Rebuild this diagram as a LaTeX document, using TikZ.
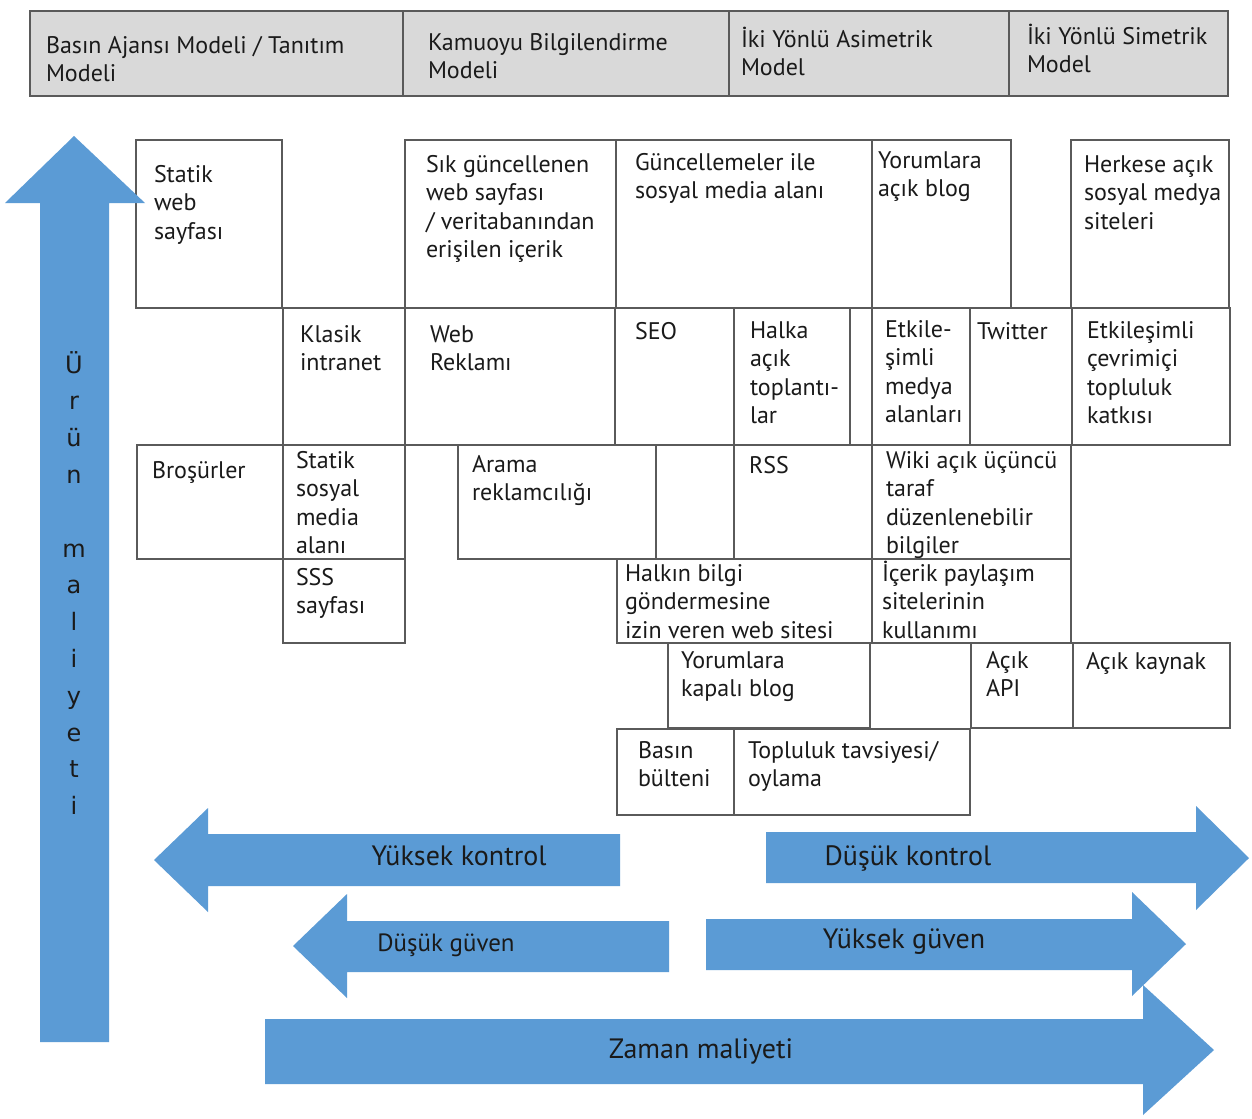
\documentclass[tikz,border=0pt]{standalone}
\usepackage{fontspec}
\setmainfont{PT Sans}
\newfontfamily\vertfont{DejaVu Sans}
\definecolor{arrowblue}{HTML}{5B9BD5}
\definecolor{linegray}{HTML}{5A5A5A}
\definecolor{headgray}{HTML}{D9D9D9}
\definecolor{txtblack}{HTML}{1A1A1A}
\newcommand\mkbox[6][cell]{\node[#1, minimum width={(#5-#3)*0.75pt}, minimum height={(#6-#4)*0.75pt}] (#2) at (#3,#4) {};}
\newcommand\lns[1]{\begin{tabular}[t]{@{}l@{}}#1\end{tabular}}
\tikzset{
  cell/.style={draw=linegray, line width=1pt, rectangle, anchor=north west, inner sep=0pt, outer sep=0pt},
  headcell/.style={cell, fill=headgray},
  txt/.style={anchor=base west, inner sep=0pt, outer sep=0pt, text=txtblack, font=\fontsize{18}{21.4}\selectfont},
  arrowlbl/.style={anchor=base, inner sep=0pt, outer sep=0pt, text=txtblack, font=\fontsize{21}{25}\selectfont},
  blockarrow/.style={fill=arrowblue, draw=none},
}
\begin{document}
\begin{tikzpicture}[x=0.75pt, y=-0.75pt]
\useasboundingbox[fill=white] (0,0) rectangle (1252,1118);

% header
\mkbox[headcell]{h1}{30}{11}{403}{96}
\mkbox[headcell]{h2}{403}{11}{729}{96}
\mkbox[headcell]{h3}{729}{11}{1009}{96}
\mkbox[headcell]{h4}{1009}{11}{1228}{96}
\node[txt] (th1) at (46,53) {\lns{Basın Ajansı Modeli / Tanıtım\\Modeli}};
\node[txt] (th2) at (428,50) {\lns{Kamuoyu Bilgilendirme\\Modeli}};
\node[txt] (th3) at (741,47) {\lns{İki Yönlü Asimetrik\\Model}};
\node[txt] (th4) at (1027,44) {\lns{İki Yönlü Simetrik\\Model}};

% row 1
\mkbox{b1}{136}{140}{282}{308}
\mkbox{b2}{405}{140}{616}{308}
\mkbox{b3}{616}{140}{872}{308}
\mkbox{b4}{872}{140}{1011}{308}
\mkbox{b5}{1071}{140}{1229}{308}
\node[txt] (tb1) at (154,182) {\lns{Statik\\web\\sayfası}};
\node[txt] (tb2) at (426,172) {\lns{Sık güncellenen\\web sayfası\\/ veritabanından\\erişilen içerik}};
\node[txt] (tb3) at (635,170) {\lns{Güncellemeler ile\\sosyal media alanı}};
\node[txt] (tb4) at (878,168) {\lns{Yorumlara\\açık blog}};
\node[txt] (tb5) at (1084,172) {\lns{Herkese açık\\sosyal medya\\siteleri}};

% row 2
\mkbox{c1}{283}{308}{405}{445}
\mkbox{c2}{405}{308}{615}{445}
\mkbox{c3}{615}{308}{734}{445}
\mkbox{c4}{734}{308}{850}{445}
\mkbox{c5}{872}{308}{970}{445}
\mkbox{c6}{970}{308}{1072}{445}
\mkbox{c7}{1072}{308}{1230}{445}
\node[txt] (tc1) at (300,342) {\lns{Klasik\\intranet}};
\node[txt] (tc2) at (430,342) {\lns{Web\\Reklamı}};
\node[txt] (tc3) at (635,339) {SEO};
\node[txt] (tc4) at (750,338) {\lns{Halka\\açık\\toplantı-\\lar}};
\node[txt] (tc5) at (885,337) {\lns{Etkile-\\şimli\\medya\\alanları}};
\node[txt] (tc6) at (977,339) {Twitter};
\node[txt] (tc7) at (1087,338) {\lns{Etkileşimli\\çevrimiçi\\topluluk\\katkısı}};

% row 3
\mkbox{d1}{137}{445}{283}{559}
\mkbox{d2}{283}{445}{405}{559}
\mkbox{d3}{458}{445}{656}{559}
\mkbox{d4}{734}{445}{872}{559}
\mkbox{d5}{872}{445}{1071}{559}
\node[txt] (td1) at (152,478) {Broşürler};
\node[txt] (td2) at (296,468) {\lns{Statik\\sosyal\\media\\alanı}};
\node[txt] (td3) at (472,472) {\lns{Arama\\reklamcılığı}};
\node[txt] (td4) at (749,473) {RSS};
\node[txt] (td5) at (886,468) {\lns{Wiki açık üçüncü\\taraf\\düzenlenebilir\\bilgiler}};

% row 4
\mkbox{e1}{283}{559}{405}{643}
\mkbox{e2}{617}{559}{872}{643}
\mkbox{e3}{872}{559}{1071}{643}
\node[txt] (te1) at (296,585) {\lns{SSS\\sayfası}};
\node[txt] (te2) at (625,581) {\lns{Halkın bilgi\\göndermesine\\izin veren web sitesi}};
\node[txt] (te3) at (882,581) {\lns{İçerik paylaşım\\sitelerinin\\kullanımı}};

% row 5
\mkbox{f1}{668}{643}{870}{728}
\mkbox{f2}{971}{643}{1073}{728}
\mkbox{f3}{1073}{643}{1230}{728}
\node[txt] (tf1) at (681,668) {\lns{Yorumlara\\kapalı blog}};
\node[txt] (tf2) at (986,668) {\lns{Açık\\API}};
\node[txt] (tf3) at (1086,669) {Açık kaynak};

% row 6
\mkbox{g1}{617}{729}{734}{815}
\mkbox{g2}{734}{729}{970}{815}
\node[txt] (tg1) at (638,758) {\lns{Basın\\bülteni}};
\node[txt] (tg2) at (748,758) {\lns{Topluluk tavsiyesi/\\oylama}};

% block arrows
\fill[blockarrow] (40,1042) -- (40,203) -- (5,203) -- (74,136) -- (145,203) -- (109,203) -- (109,1042) -- cycle;
\fill[blockarrow] (620,834) -- (208,834) -- (208,808) -- (154,860) -- (208,912) -- (208,886) -- (620,886) -- cycle;
\fill[blockarrow] (669,921) -- (347,921) -- (347,894) -- (293,946) -- (347,998) -- (347,972) -- (669,972) -- cycle;
\fill[blockarrow] (766,832) -- (1196,832) -- (1196,806) -- (1249,858) -- (1196,910) -- (1196,883) -- (766,883) -- cycle;
\fill[blockarrow] (706,919) -- (1132,919) -- (1132,892) -- (1186,944) -- (1132,996) -- (1132,970) -- (706,970) -- cycle;
\fill[blockarrow] (265,1019) -- (1143,1019) -- (1143,985) -- (1214,1050) -- (1143,1115) -- (1143,1084) -- (265,1084) -- cycle;

\node[arrowlbl] (lyk) at (459,865) {Yüksek kontrol};
\node[arrowlbl, font=\fontsize{18.7}{22}\selectfont] (ldg) at (446,951) {Düşük güven};
\node[arrowlbl] (ldk) at (908,865) {Düşük kontrol};
\node[arrowlbl] (lyg) at (904,948) {Yüksek güven};
\node[arrowlbl] (lzm) at (701,1058) {Zaman maliyeti};

\node[anchor=base, inner sep=0pt, text=txtblack, font=\vertfont\fontsize{18}{27.6}\selectfont] (urun) at (74,373)
  {\begin{tabular}[t]{@{}c@{}}Ü\\r\\ü\\n\\ \\m\\a\\l\\i\\y\\e\\t\\i\end{tabular}};
\end{tikzpicture}
\end{document}
